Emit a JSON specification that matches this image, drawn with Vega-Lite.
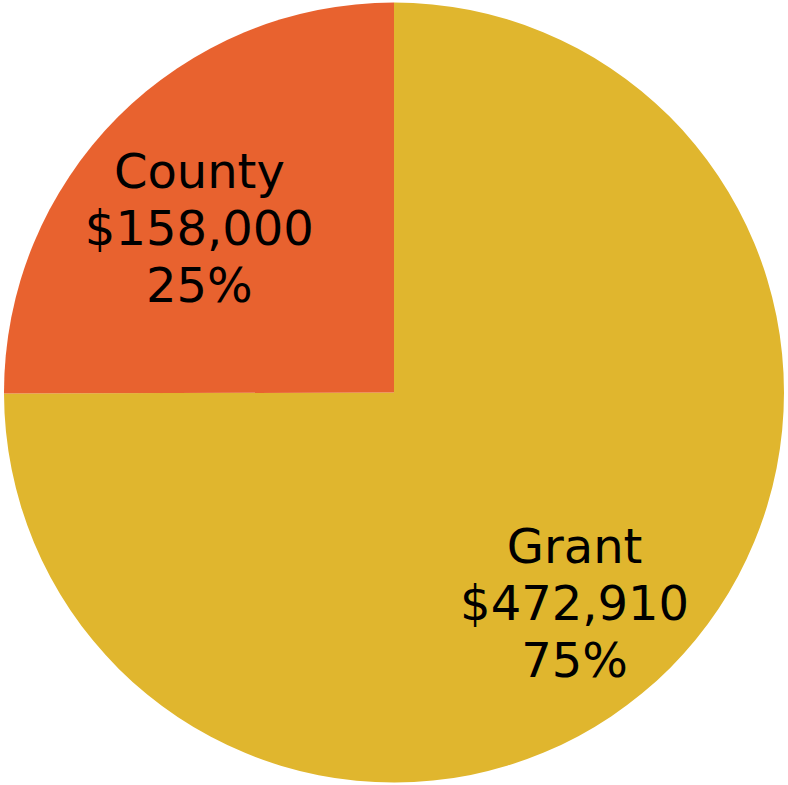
{
  "$schema": "https://vega.github.io/schema/vega-lite/v6.json",
  "autosize": {"type": "fit", "contains": "padding"},
  "width": 788,
  "height": 785,
  "padding": 0,
  "background": "white",
  "view": {"stroke": null},
  "data": {
    "values": [
      {"source": "Grant", "amount": 472910, "label": ["Grant", "$472,910", "75%"]},
      {"source": "County", "amount": 158000, "label": ["County", "$158,000", "25%"]}
    ]
  },
  "encoding": {
    "theta": {"field": "amount", "type": "quantitative", "stack": true},
    "order": {"field": "amount", "type": "quantitative", "sort": "descending"}
  },
  "layer": [
    {
      "mark": {"type": "arc", "outerRadius": 390},
      "encoding": {
        "color": {
          "field": "source",
          "type": "nominal",
          "scale": {"domain": ["Grant", "County"], "range": ["#E0B62E", "#E8622F"]},
          "legend": null
        }
      }
    },
    {
      "mark": {
        "type": "text",
        "radius": 265,
        "dx": -7,
        "dy": -31,
        "font": "DejaVu Sans",
        "fontSize": 48,
        "lineHeight": 57,
        "align": "center",
        "baseline": "middle",
        "color": "black"
      },
      "encoding": {
        "text": {"field": "label"}
      }
    }
  ]
}
